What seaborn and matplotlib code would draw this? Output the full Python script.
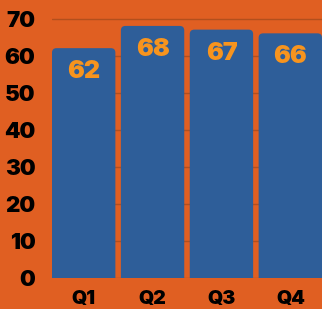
import matplotlib
matplotlib.use("Agg")
import matplotlib.pyplot as plt
from matplotlib.patches import FancyBboxPatch
import seaborn as sns
import pandas as pd

categories = ["Q1", "Q2", "Q3", "Q4"]
values = [62, 68, 67, 66]
yticks = [0, 10, 20, 30, 40, 50, 60, 70]

BG = "#E05F22"
BAR = "#2E5E99"
LABEL = "#F7941E"
GRID = "#B24F1D"

sns.set_theme(style="white")
plt.rcParams['font.family'] = ['Inter', 'DejaVu Sans']

df = pd.DataFrame({"q": categories, "v": values})

fig = plt.figure(figsize=(3.22, 3.09), dpi=100, facecolor=BG)
ax = fig.add_axes([0.1615, 0.101, 0.8385, 0.899])
ax.set_facecolor(BG)

sns.barplot(data=df, x="q", y="v", color=BAR, width=0.92, saturation=1, ax=ax, zorder=2)

ax.set_xlim(-0.46, 3.46)
ax.set_ylim(0, 75)

# replace bars with rounded-top versions
px_x = 270 / 3.92
px_y = 277.7 / 75
r_px = 4.5
aspect = (r_px / px_y) / (r_px / px_x)
for p in list(ax.patches):
    x, y, w, h = p.get_x(), p.get_y(), p.get_width(), p.get_height()
    p.set_visible(False)
    fb = FancyBboxPatch((x, y - 3), w, h + 3,
                        boxstyle=f"round,pad=0,rounding_size={r_px/px_x}",
                        mutation_aspect=aspect, facecolor=BAR, edgecolor="none",
                        zorder=2, clip_on=True)
    ax.add_patch(fb)

for i, v in enumerate(values):
    ax.annotate(str(v), (i, v), xytext=(0, -17), textcoords="offset points",
                ha="center", va="center", color=LABEL, fontsize=18,
                fontweight=900, zorder=3)

ax.set_yticks(yticks)
ax.set_yticklabels([str(t) for t in yticks])
ax.yaxis.grid(True, color=GRID, linewidth=1.0, zorder=0)
ax.set_axisbelow(True)
ax.tick_params(axis="y", length=0, pad=12, labelsize=16, labelcolor="black")
ax.tick_params(axis="x", length=0, pad=9, labelsize=14, labelcolor="black")
for lab in ax.get_yticklabels() + ax.get_xticklabels():
    lab.set_fontweight(900)
ax.set_xlabel("")
ax.set_ylabel("")
for s in ax.spines.values():
    s.set_visible(False)

fig.savefig("out.png", dpi=100, facecolor=BG)
